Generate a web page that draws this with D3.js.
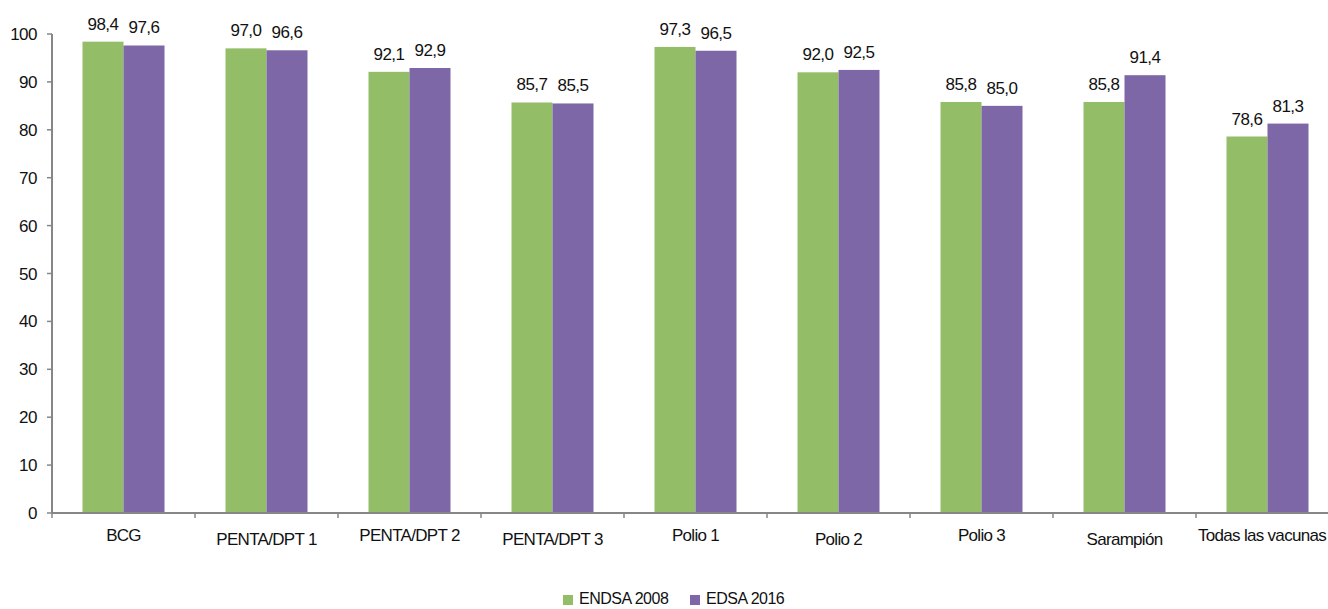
<!DOCTYPE html>
<html>
<head>
<meta charset="utf-8">
<script src="https://cdn.jsdelivr.net/npm/d3@7"></script>
<style>
  html, body { margin: 0; padding: 0; background: #fff; }
  svg { display: block; font-family: "Liberation Sans", Arial, sans-serif; }
</style>
</head>
<body>
<svg id="chart" width="1328" height="609"></svg>
<script>
const categories = ["BCG", "PENTA/DPT 1", "PENTA/DPT 2", "PENTA/DPT 3", "Polio 1", "Polio 2", "Polio 3", "Sarampión", "Todas las vacunas"];
const seriesNames = ["ENDSA 2008", "EDSA 2016"];
const endsa2008 = [98.4, 97.0, 92.1, 85.7, 97.3, 92.0, 85.8, 85.8, 78.6];
const edsa2016 = [97.6, 96.6, 92.9, 85.5, 96.5, 92.5, 85.0, 91.4, 81.3];
const yTicks = [0, 10, 20, 30, 40, 50, 60, 70, 80, 90, 100];
const colors = ["#93BD66", "#7D67A6"];

(function () {
const svg = d3.select("#chart");
const W = 1328;
const mLeft = 52, mRight = 1339, mTop = 34, mBottom = 513;

const y = d3.scaleLinear().domain([0, 100]).range([mBottom, mTop]);
const pad = 61 / 143;
const x0 = d3.scaleBand().domain(categories).range([mLeft, mRight]).paddingInner(pad).paddingOuter(pad / 2);
const x1 = d3.scaleBand().domain(seriesNames).range([0, x0.bandwidth()]);
const step = x0.step();

const data = categories.map((c, i) => ({ cat: c, vals: [endsa2008[i], edsa2016[i]] }));

// bars
const g = svg.append("g");
const groups = g.selectAll("g.cat").data(data).join("g")
  .attr("transform", d => `translate(${x0(d.cat)},0)`);
groups.selectAll("rect").data(d => d.vals.map((v, k) => ({ v, k })))
  .join("rect")
  .attr("x", d => x1(seriesNames[d.k]))
  .attr("width", x1.bandwidth())
  .attr("y", d => y(d.v))
  .attr("height", d => y(0) - y(d.v))
  .attr("fill", d => colors[d.k]);
groups.selectAll("text").data(d => d.vals.map((v, k) => ({ v, k })))
  .join("text")
  .attr("x", d => x1(seriesNames[d.k]) + x1.bandwidth() / 2)
  .attr("y", d => y(d.v) - 12)
  .attr("text-anchor", "middle")
  .attr("font-size", 17)
  .attr("letter-spacing", -0.5)
  .attr("fill", "#111")
  .text(d => d3.format(".1f")(d.v).replace(".", ","));

// y axis
const axisColor = "#868686";
const ya = svg.append("g");
ya.append("line").attr("x1", mLeft).attr("x2", mLeft).attr("y1", y(100)).attr("y2", y(0))
  .attr("stroke", axisColor).attr("stroke-width", 2);
ya.selectAll("line.t").data(yTicks).join("line").attr("class", "t")
  .attr("x1", mLeft - 5).attr("x2", mLeft).attr("y1", d => y(d)).attr("y2", d => y(d))
  .attr("stroke", axisColor).attr("stroke-width", 1.5);
ya.selectAll("text").data(yTicks).join("text")
  .attr("x", mLeft - 15).attr("y", d => y(d) + 6)
  .attr("text-anchor", "end").attr("font-size", 17).attr("letter-spacing", -0.5).attr("fill", "#111")
  .text(d => d);

// x axis
const xa = svg.append("g");
xa.append("line").attr("x1", mLeft).attr("x2", mRight).attr("y1", y(0)).attr("y2", y(0))
  .attr("stroke", axisColor).attr("stroke-width", 2);
xa.selectAll("line.t").data(categories).join("line").attr("class", "t")
  .attr("x1", d => x0(d) - step * pad / 2).attr("x2", d => x0(d) - step * pad / 2)
  .attr("y1", y(0)).attr("y2", y(0) + 5)
  .attr("stroke", axisColor).attr("stroke-width", 1.5);
xa.selectAll("text").data(categories).join("text")
  .attr("x", d => x0(d) + x0.bandwidth() / 2)
  .attr("y", (d, i) => y(0) + 28 + (i % 2 ? 4 : 0))
  .attr("text-anchor", "middle").attr("font-size", 17).attr("letter-spacing", -0.7).attr("fill", "#111")
  .text(d => d)
  .each(function () {
    const len = this.getComputedTextLength();
    const cx = +this.getAttribute("x");
    if (cx + len / 2 > W - 2) this.setAttribute("x", W - 2 - len / 2);
  });

// legend
const legend = svg.append("g");
const legX = [563, 690];
seriesNames.forEach((s, k) => {
  legend.append("rect").attr("x", legX[k]).attr("y", 595).attr("width", 10).attr("height", 10).attr("fill", colors[k]);
  legend.append("text").attr("x", legX[k] + 16).attr("y", 604).attr("font-size", 16)
    .attr("letter-spacing", -0.5).attr("fill", "#111").text(s);
});
})();
</script>
</body>
</html>
